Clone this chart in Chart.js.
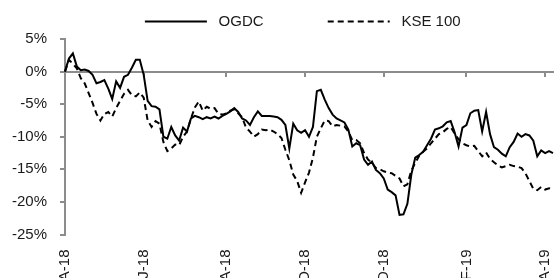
<!DOCTYPE html>
<html>
<head>
<meta charset="utf-8">
<script src="https://cdn.jsdelivr.net/npm/chart.js@4/dist/chart.umd.min.js"></script>
<style>
  html, body { margin: 0; padding: 0; background: #fff; }
  #wrap { width: 556px; height: 278px; position: relative; }
</style>
</head>
<body>
<div id="wrap"><canvas id="perfChart"></canvas></div>
<script>
// sample dates (every 3 calendar days)
const dates = [
  '2018-04-02','2018-04-05','2018-04-08','2018-04-11','2018-04-14','2018-04-17','2018-04-20','2018-04-23','2018-04-26','2018-04-29',
  '2018-05-02','2018-05-05','2018-05-08','2018-05-11','2018-05-14','2018-05-17','2018-05-20','2018-05-23','2018-05-26','2018-05-29',
  '2018-06-01','2018-06-04','2018-06-07','2018-06-10','2018-06-13','2018-06-16','2018-06-19','2018-06-22','2018-06-25','2018-06-28',
  '2018-07-01','2018-07-04','2018-07-07','2018-07-10','2018-07-13','2018-07-16','2018-07-19','2018-07-22','2018-07-25','2018-07-28',
  '2018-07-31','2018-08-03','2018-08-06','2018-08-09','2018-08-12','2018-08-15','2018-08-18','2018-08-21','2018-08-24','2018-08-27',
  '2018-08-30','2018-09-02','2018-09-05','2018-09-08','2018-09-11','2018-09-14','2018-09-17','2018-09-20','2018-09-23','2018-09-26',
  '2018-09-29','2018-10-02','2018-10-05','2018-10-08','2018-10-11','2018-10-14','2018-10-17','2018-10-20','2018-10-23','2018-10-26',
  '2018-10-29','2018-11-01','2018-11-04','2018-11-07','2018-11-10','2018-11-13','2018-11-16','2018-11-19','2018-11-22','2018-11-25',
  '2018-11-28','2018-12-01','2018-12-04','2018-12-07','2018-12-10','2018-12-13','2018-12-16','2018-12-19','2018-12-22','2018-12-25',
  '2018-12-28','2018-12-31','2019-01-03','2019-01-06','2019-01-09','2019-01-12','2019-01-15','2019-01-18','2019-01-21','2019-01-24',
  '2019-01-27','2019-01-30','2019-02-02','2019-02-05','2019-02-08','2019-02-11','2019-02-14','2019-02-17','2019-02-20','2019-02-23',
  '2019-02-26','2019-03-01','2019-03-04','2019-03-07','2019-03-10','2019-03-13','2019-03-16','2019-03-19','2019-03-22','2019-03-25',
  '2019-03-28','2019-03-31','2019-04-03','2019-04-06','2019-04-09'
];

const tickDates = ['2018-04-02','2018-06-01','2018-08-03','2018-10-02','2018-12-01','2019-02-02','2019-04-03'];
const tickLabels = ['A-18','J-18','A-18','O-18','D-18','F-19','A-19'];

// relative performance, %
const ogdc = [
  0.0, 2.0, 2.8, 0.8, 0.2, 0.3, 0.1, -0.5, -1.8, -1.6,
  -1.3, -2.6, -4.2, -1.5, -2.5, -0.8, -0.5, 0.6, 1.8, 1.8,
  -0.5, -4.5, -5.3, -5.4, -5.8, -10.0, -10.3, -8.5, -9.8, -10.6,
  -8.6, -9.2, -7.2, -6.8, -7.0, -7.3, -7.0, -7.2, -6.9, -7.2,
  -6.8, -6.5, -6.1, -5.6, -6.2, -7.2, -7.5, -8.2, -7.0, -6.1,
  -6.8, -6.8, -6.8, -6.9, -7.0, -7.4, -8.2, -11.8, -8.0, -9.0,
  -9.4, -9.0, -10.0, -8.5, -3.0, -2.8, -4.3, -5.6, -6.6, -7.2,
  -7.5, -7.8, -8.9, -11.5, -11.0, -11.3, -13.5, -14.3, -13.8, -15.1,
  -15.6, -16.4, -18.1, -18.5, -19.0, -22.0, -21.9, -20.3, -15.8, -13.2,
  -12.8, -12.3, -11.3, -10.3, -8.9, -8.7, -8.4, -7.8, -7.6, -9.3,
  -11.5, -8.6, -8.2, -6.4, -6.0, -5.9, -9.2, -6.2, -9.6, -11.6,
  -12.0, -12.6, -13.0, -11.6, -10.8, -9.5, -10.0, -9.6, -9.8, -10.6,
  -13.0, -12.1, -12.5, -12.2, -12.5
];
const kse100 = [
  0.0, 1.8, 1.2, 0.5, -1.0, -1.8, -3.3, -4.8, -6.5, -7.5,
  -6.5, -6.2, -6.9, -5.6, -4.5, -3.4, -2.8, -3.6, -3.8, -3.2,
  -4.0, -7.5, -8.5, -7.6, -8.0, -10.8, -12.2, -11.8, -11.2, -11.3,
  -10.0, -9.2, -7.2, -5.5, -4.6, -6.0, -5.4, -5.7, -5.6, -6.5,
  -6.6, -6.4, -6.0, -5.8, -6.4, -7.0, -8.6, -9.2, -10.0, -9.6,
  -8.9, -9.0, -8.9, -9.2, -9.6, -10.2, -12.0, -13.6, -15.8, -16.8,
  -18.6, -17.0, -15.5, -13.2, -10.0, -8.7, -7.5, -7.6, -8.4, -8.2,
  -8.3, -8.4, -9.2, -10.5, -10.5, -11.0, -12.5, -13.5, -14.0, -14.8,
  -15.0, -15.3, -15.5, -15.6, -16.0, -16.4, -17.6, -17.3, -15.2, -14.0,
  -12.9, -12.3, -11.8, -11.0, -10.3, -9.6, -9.3, -8.8, -8.5, -9.5,
  -10.4, -11.0, -11.3, -11.5, -11.4, -12.2, -13.0, -12.4, -13.4, -13.9,
  -14.4, -14.7, -14.5, -14.3, -14.5, -14.6, -14.8, -15.6, -16.8, -18.0,
  -18.2, -17.7, -18.1, -17.9, -18.2
];

const yMin = -25;
const yMax = 5;
const yStep = 5;

Chart.defaults.font.family = "'Liberation Sans', Arial, sans-serif";
Chart.defaults.font.size = 15;
Chart.defaults.color = '#1a1a1a';

const axisGrey = '#8c8c8c';

new Chart(document.getElementById('perfChart'), {
    type: 'line',
    data: {
        labels: dates,
        datasets: [
            { label: 'OGDC', data: ogdc, borderColor: '#000', backgroundColor: '#000', borderWidth: 2, pointRadius: 0, tension: 0 },
            { label: 'KSE 100', data: kse100, borderColor: '#000', backgroundColor: '#000', borderWidth: 2, borderDash: [6, 4], pointRadius: 0, tension: 0 }
        ]
    },
    options: {
        responsive: true,
        maintainAspectRatio: false,
        animation: false,
        layout: { padding: { top: 4, right: 3, left: 0, bottom: 0 } },
        plugins: {
            legend: {
                position: 'top',
                fullSize: false,
                labels: {
                    usePointStyle: true,
                    pointStyle: 'line',
                    pointStyleWidth: 62,
                    padding: 10,
                    color: '#1a1a1a',
                    font: { size: 15 },
                    generateLabels: function (chart) {
                        const items = Chart.defaults.plugins.legend.labels.generateLabels(chart);
                        items.forEach((item) => {
                            const ds = chart.data.datasets[item.datasetIndex];
                            // small lead gap, wide gap between the two entries
                            item.text = ' ' + item.text + ' '.repeat(item.datasetIndex === 0 ? 13 : 3);
                            item.lineDash = ds.borderDash || [];
                            item.lineWidth = 2;
                        });
                        return items;
                    }
                }
            },
            tooltip: { enabled: false }
        },
        scales: {
            x: {
                type: 'category',
                position: 'bottom',
                border: { display: false },
                grid: { display: false, drawTicks: false },
                ticks: {
                    autoSkip: false,
                    maxRotation: 90,
                    minRotation: 90,
                    padding: 15,
                    callback: function (v) {
                        const k = tickDates.indexOf(this.getLabelForValue(v));
                        return k >= 0 ? tickLabels[k] : '';
                    }
                },
                afterFit: function (s) {
                    s.height = 43.5;
                    s.paddingLeft = 0;
                    s.paddingRight = 0;
                }
            },
            x0: {
                type: 'category',
                position: { y: 0 },
                ticks: { display: false, autoSkip: false },
                grid: {
                    drawOnChartArea: false,
                    tickLength: 4,
                    lineWidth: 2,
                    color: (ctx) => tickDates.includes(dates[ctx.index]) ? axisGrey : 'rgba(0,0,0,0)'
                },
                border: { color: axisGrey, width: 2 }
            },
            y: {
                min: yMin,
                max: yMax,
                ticks: { stepSize: yStep, padding: 13, callback: (v) => v + '%' },
                grid: { drawOnChartArea: false, tickLength: 5, lineWidth: 2, color: axisGrey },
                border: { color: axisGrey, width: 2 },
                afterFit: function (s) { s.width = 65; }
            }
        }
    }
});
</script>
</body>
</html>
